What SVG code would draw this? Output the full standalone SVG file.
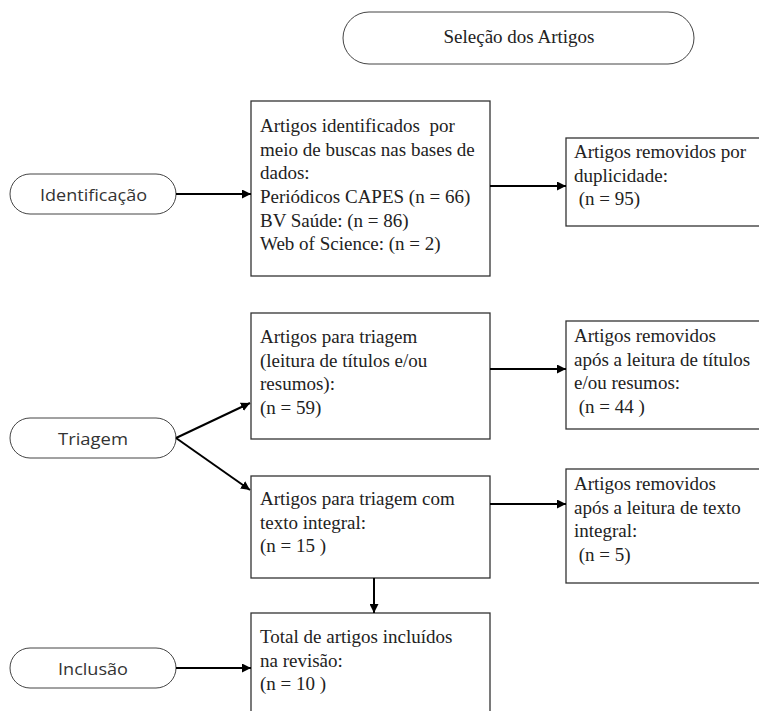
<svg xmlns="http://www.w3.org/2000/svg" width="759" height="711" viewBox="0 0 759 711">
<style>
.pill{fill:#fff;stroke:#444;stroke-width:1}
.box{fill:#fff;stroke:#333;stroke-width:1.3}
.t{font-family:"Liberation Serif","Times New Roman",serif;font-size:19px;fill:#222}
.s{font-family:"Open Sans","Noto Sans",sans-serif;font-size:17px;fill:#333}
.c{stroke:#000;stroke-width:2;fill:none;marker-end:url(#ah)}
</style>
<defs>
<marker id="ah" viewBox="0 0 10 10" refX="10" refY="5" markerWidth="4.5" markerHeight="4.5" orient="auto" markerUnits="strokeWidth">
<path d="M0,0 L10,5 L0,10 z" fill="#000"/>
</marker>
</defs>
<g id="title">
<rect class="pill" x="343" y="12" width="351" height="52" rx="26"/>
<text class="t" x="519" y="43" text-anchor="middle">Seleção dos Artigos</text>
</g>
<g id="identificacao">
<rect class="pill" x="10" y="174" width="166" height="40" rx="20"/>
<text class="s" x="40" y="201" textLength="107" lengthAdjust="spacingAndGlyphs">Identificação</text>
</g>
<g id="triagem">
<rect class="pill" x="10" y="418" width="166" height="40" rx="20"/>
<text class="s" x="58" y="445" textLength="70" lengthAdjust="spacingAndGlyphs">Triagem</text>
</g>
<g id="inclusao">
<rect class="pill" x="10" y="648" width="166" height="40" rx="20"/>
<text class="s" x="58" y="675" textLength="70" lengthAdjust="spacingAndGlyphs">Inclusão</text>
</g>
<g id="box-identificados">
<rect class="box" x="251" y="101" width="239" height="175"/>
<text class="t" x="260" y="132" xml:space="preserve">Artigos identificados  por</text>
<text class="t" x="260" y="156">meio de buscas nas bases de</text>
<text class="t" x="260" y="179">dados:</text>
<text class="t" x="260" y="203">Periódicos CAPES (n = 66)</text>
<text class="t" x="260" y="227">BV Saúde: (n = 86)</text>
<text class="t" x="260" y="250">Web of Science: (n = 2)</text>
</g>
<g id="box-duplicidade">
<rect class="box" x="566" y="138" width="200" height="88"/>
<text class="t" x="574" y="158">Artigos removidos por</text>
<text class="t" x="574" y="182">duplicidade:</text>
<text class="t" x="574" y="205" xml:space="preserve"> (n = 95)</text>
</g>
<g id="box-triagem1">
<rect class="box" x="251" y="313" width="239" height="126"/>
<text class="t" x="260" y="343">Artigos para triagem</text>
<text class="t" x="260" y="367">(leitura de títulos e/ou</text>
<text class="t" x="260" y="390">resumos):</text>
<text class="t" x="260" y="414">(n = 59)</text>
</g>
<g id="box-removidos1">
<rect class="box" x="566" y="321" width="200" height="108"/>
<text class="t" x="574" y="342">Artigos removidos</text>
<text class="t" x="574" y="366">após a leitura de títulos</text>
<text class="t" x="574" y="389">e/ou resumos:</text>
<text class="t" x="574" y="413" xml:space="preserve"> (n = 44 )</text>
</g>
<g id="box-triagem2">
<rect class="box" x="251" y="476" width="239" height="102"/>
<text class="t" x="260" y="505">Artigos para triagem com</text>
<text class="t" x="260" y="529">texto integral:</text>
<text class="t" x="260" y="552">(n = 15 )</text>
</g>
<g id="box-removidos2">
<rect class="box" x="566" y="469" width="200" height="114"/>
<text class="t" x="574" y="490">Artigos removidos</text>
<text class="t" x="574" y="514">após a leitura de texto</text>
<text class="t" x="574" y="537">integral:</text>
<text class="t" x="574" y="561" xml:space="preserve"> (n = 5)</text>
</g>
<g id="box-incluidos">
<rect class="box" x="251" y="613" width="239" height="110"/>
<text class="t" x="260" y="643">Total de artigos incluídos</text>
<text class="t" x="260" y="667">na revisão:</text>
<text class="t" x="260" y="690">(n = 10 )</text>
</g>
<g id="connectors">
<line class="c" x1="176" y1="194" x2="251" y2="194"/>
<line class="c" x1="490" y1="186" x2="566" y2="186"/>
<line class="c" x1="176" y1="438" x2="250" y2="403"/>
<line class="c" x1="176" y1="438" x2="250" y2="490"/>
<line class="c" x1="490" y1="369" x2="566" y2="369"/>
<line class="c" x1="490" y1="504" x2="566" y2="504"/>
<line class="c" x1="374" y1="578" x2="374" y2="613"/>
<line class="c" x1="176" y1="668" x2="251" y2="668"/>
</g>
</svg>
